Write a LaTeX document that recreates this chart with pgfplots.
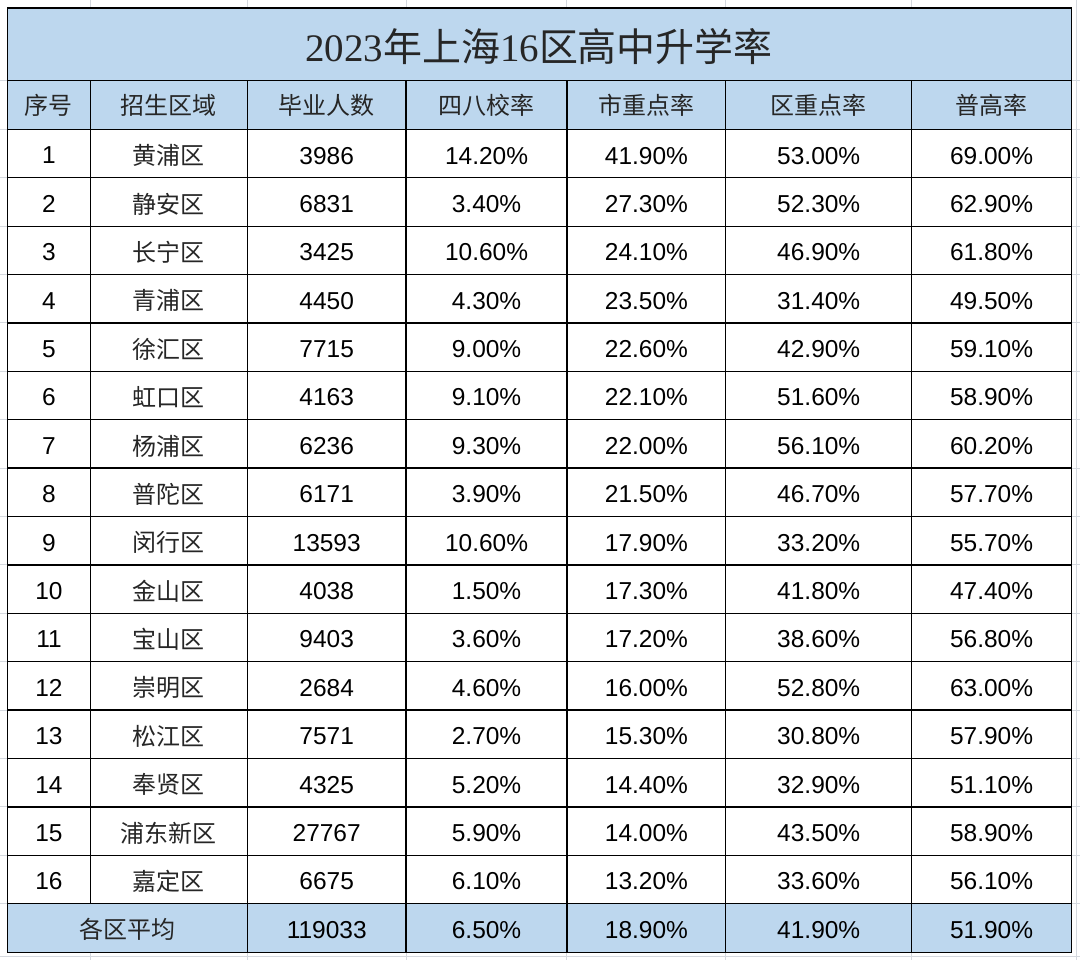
\documentclass[border=0pt]{standalone}
\usepackage{fontspec}
\setmainfont{Liberation Sans}
\newfontfamily\cjk{Noto Sans CJK SC}
\newfontfamily\ser{Liberation Serif}
\usepackage{pgfplots}
\usepackage{pgfplotstable}
\pgfplotsset{compat=1.18}
\definecolor{hdrblue}{RGB}{189,215,238}
\definecolor{xlgrid}{RGB}{212,216,222}

% row, district, graduates, rates in %
\pgfplotstableread{
row name n s48 shi qu pu
1 黄浦区 3986 14.20 41.90 53.00 69.00
2 静安区 6831 3.40 27.30 52.30 62.90
3 长宁区 3425 10.60 24.10 46.90 61.80
4 青浦区 4450 4.30 23.50 31.40 49.50
5 徐汇区 7715 9.00 22.60 42.90 59.10
6 虹口区 4163 9.10 22.10 51.60 58.90
7 杨浦区 6236 9.30 22.00 56.10 60.20
8 普陀区 6171 3.90 21.50 46.70 57.70
9 闵行区 13593 10.60 17.90 33.20 55.70
10 金山区 4038 1.50 17.30 41.80 47.40
11 宝山区 9403 3.60 17.20 38.60 56.80
12 崇明区 2684 4.60 16.00 52.80 63.00
13 松江区 7571 2.70 15.30 30.80 57.90
14 奉贤区 4325 5.20 14.40 32.90 51.10
15 浦东新区 27767 5.90 14.00 43.50 58.90
16 嘉定区 6675 6.10 13.20 33.60 56.10
}\districts

\pgfplotstableread{
x label
48.5 序号
168.5 招生区域
326.5 毕业人数
486.5 四八校率
646.5 市重点率
819 区重点率
992 普高率
}\header

\pgfplotstableread{
x label
486.5 6.50
646.5 18.90
819 41.90
992 51.90
}\avgrates

\pgfplotsset{
  celltext/.style={draw=none, mark=none, point meta=explicit symbolic,
    nodes near coords style={anchor=center, inner sep=0pt, font=#1}},
}
\newcommand{\rowy}{129+(\thisrow{row}-0.5)*48.44+2}
\newcommand{\numfont}{\fontsize{24.5pt}{28pt}\selectfont}
\newcommand{\cjkfont}{\cjk\fontsize{24pt}{28pt}\selectfont\color{black!85}}

\begin{document}
\begin{tikzpicture}
\begin{axis}[
    width=1080pt, height=960pt, scale only axis,
    xmin=0, xmax=1080, ymin=0, ymax=960, y dir=reverse,
    hide axis, clip=false,
    unbounded coords=jump,
]
% page background
\addplot[fill=white, draw=none] coordinates {(0,0) (1080,0) (1080,960) (0,960)} -- cycle;
% faint spreadsheet grid around the table
\addplot[xlgrid, line width=1pt] coordinates {
  (90,0) (90,960) (nan,nan) (247,0) (247,960) (nan,nan) (406,0) (406,960) (nan,nan)
  (567,0) (567,960) (nan,nan) (726,0) (726,960) (nan,nan) (912,0) (912,960) (nan,nan)
  (1077,0) (1077,960) (nan,nan)
  (0,80) (1080,80) (nan,nan) (0,129) (1080,129) (nan,nan) (0,177.44) (1080,177.44) (nan,nan)
  (0,225.88) (1080,225.88) (nan,nan) (0,274.31) (1080,274.31) (nan,nan) (0,322.75) (1080,322.75) (nan,nan)
  (0,371.19) (1080,371.19) (nan,nan) (0,419.63) (1080,419.63) (nan,nan) (0,468.06) (1080,468.06) (nan,nan)
  (0,516.5) (1080,516.5) (nan,nan) (0,564.94) (1080,564.94) (nan,nan) (0,613.38) (1080,613.38) (nan,nan)
  (0,661.81) (1080,661.81) (nan,nan) (0,710.25) (1080,710.25) (nan,nan) (0,758.69) (1080,758.69) (nan,nan)
  (0,807.13) (1080,807.13) (nan,nan) (0,855.56) (1080,855.56) (nan,nan) (0,904) (1080,904) (nan,nan)
  (0,957) (1080,957)
};
% blue title, header and average rows
\addplot[fill=hdrblue, draw=none] coordinates {(7,7.5) (1072,7.5) (1072,129) (7,129)} -- cycle;
\addplot[fill=hdrblue, draw=none] coordinates {(7,904) (1072,904) (1072,953) (7,953)} -- cycle;
% black cell borders
\addplot[black, line width=1.3pt] coordinates {
  (7,7.5) (1072,7.5) (nan,nan) (7,80) (1072,80) (nan,nan) (7,129) (1072,129) (nan,nan)
  (7,177.44) (1072,177.44) (nan,nan) (7,225.88) (1072,225.88) (nan,nan) (7,274.31) (1072,274.31) (nan,nan)
  (7,322.75) (1072,322.75) (nan,nan) (7,371.19) (1072,371.19) (nan,nan) (7,419.63) (1072,419.63) (nan,nan)
  (7,468.06) (1072,468.06) (nan,nan) (7,516.5) (1072,516.5) (nan,nan) (7,564.94) (1072,564.94) (nan,nan)
  (7,613.38) (1072,613.38) (nan,nan) (7,661.81) (1072,661.81) (nan,nan) (7,710.25) (1072,710.25) (nan,nan)
  (7,758.69) (1072,758.69) (nan,nan) (7,807.13) (1072,807.13) (nan,nan) (7,855.56) (1072,855.56) (nan,nan)
  (7,904) (1072,904) (nan,nan) (7,953) (1072,953) (nan,nan)
  (7,7.5) (7,953) (nan,nan) (1072,7.5) (1072,953) (nan,nan)
  (90,80) (90,904) (nan,nan) (247,80) (247,953) (nan,nan) (406,80) (406,953) (nan,nan)
  (567,80) (567,953) (nan,nan) (726,80) (726,953) (nan,nan) (912,80) (912,953)
};
% title
\addplot[celltext={\fontsize{39pt}{44pt}\selectfont\color{black!85}},
  nodes near coords={{\ser 2023}{\cjk 年上海}{\ser 16}{\cjk 区高中升学率}}]
  coordinates {(539,46)};
% header
\addplot[celltext=\cjkfont, nodes near coords={\pgfplotspointmeta}]
  table[x=x, y expr=105, meta=label] {\header};
% body
\addplot[celltext=\numfont, nodes near coords={\pgfplotspointmeta}]
  table[x expr=48.5, y expr=\rowy, meta=row] {\districts};
\addplot[celltext=\cjkfont, nodes near coords={\pgfplotspointmeta}]
  table[x expr=168.5, y expr=\rowy, meta=name] {\districts};
\addplot[celltext=\numfont, nodes near coords={\pgfplotspointmeta}]
  table[x expr=326.5, y expr=\rowy, meta=n] {\districts};
\addplot[celltext=\numfont, nodes near coords={\pgfplotspointmeta\%}]
  table[x expr=486.5, y expr=\rowy, meta=s48] {\districts};
\addplot[celltext=\numfont, nodes near coords={\pgfplotspointmeta\%}]
  table[x expr=646.5, y expr=\rowy, meta=shi] {\districts};
\addplot[celltext=\numfont, nodes near coords={\pgfplotspointmeta\%}]
  table[x expr=819, y expr=\rowy, meta=qu] {\districts};
\addplot[celltext=\numfont, nodes near coords={\pgfplotspointmeta\%}]
  table[x expr=992, y expr=\rowy, meta=pu] {\districts};
% average row
\addplot[celltext=\cjkfont, nodes near coords={\pgfplotspointmeta}]
  coordinates {(127,930)[各区平均]};
\addplot[celltext=\numfont, nodes near coords={\pgfplotspointmeta}]
  coordinates {(326.5,930)[119033]};
\addplot[celltext=\numfont, nodes near coords={\pgfplotspointmeta\%}]
  table[x=x, y expr=930, meta=label] {\avgrates};
\end{axis}
\end{tikzpicture}
\end{document}
